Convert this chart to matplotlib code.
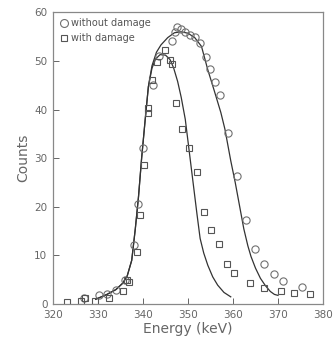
import numpy as np
import matplotlib.pyplot as plt

# ------------------------------------------------------------
# Datos
# ------------------------------------------------------------

# sin dano (circulos)
e_sin = [326.8, 330.2, 332.0, 334.1, 335.9, 337.9, 339.0, 340.1, 342.3,
         343.5, 346.5, 347.2, 347.6, 348.5, 349.4, 350.5, 351.6, 352.7,
         354.0, 354.9, 356.0, 357.1, 358.9, 360.8, 363.0, 365.0, 367.0,
         369.2, 371.2, 375.4]
c_sin = [1.2, 1.8, 2.0, 3.0, 4.9, 12.2, 20.6, 32.2, 45.1,
         51.0, 54.2, 56.0, 56.9, 56.5, 56.0, 55.3, 54.9, 53.7,
         50.8, 48.4, 45.7, 43.1, 35.1, 26.3, 17.3, 11.4, 8.2,
         6.1, 4.7, 3.5]

# con dano (cuadrados)
e_con = [323.1, 326.2, 327.2, 329.3, 332.4, 335.5, 336.5, 337.0, 338.7,
         339.4, 340.3, 341.2, 341.2, 342.1, 343.2, 344.9, 346.0, 346.5,
         347.4, 348.7, 350.2, 352.0, 353.5, 355.1, 356.8, 358.6, 360.2,
         363.7, 366.8, 370.6, 373.6, 377.0]
c_con = [0.4, 0.6, 1.3, 0.6, 1.2, 2.6, 5.0, 4.5, 10.8,
         18.4, 28.6, 40.4, 39.2, 46.1, 49.8, 52.2, 50.2, 49.4,
         41.4, 36.1, 32.0, 27.1, 19.0, 15.3, 12.4, 8.3, 6.4,
         4.3, 3.4, 2.8, 2.3, 2.1]

# curvas ajustadas (puntos leidos)
x_fit_sin = [329.5, 332.0, 334.0, 335.5, 336.5, 337.5, 338.3, 339.0,
             339.7, 340.5, 341.2, 342.0, 343.0, 344.0, 345.5, 347.0,
             348.5, 350.0, 351.5, 353.0, 354.4, 355.8, 357.3, 358.2,
             359.5, 360.5, 361.5, 362.4, 363.3, 364.0, 365.0, 366.1,
             367.2, 368.3, 369.2, 370.0]
y_fit_sin = [1.0, 2.0, 3.0, 4.3, 5.8, 9.0, 15.5, 22.0,
             30.0, 38.0, 44.7, 49.0, 51.8, 53.3, 54.8, 55.8,
             56.0, 55.7, 54.8, 53.0, 48.2, 44.0, 39.4, 36.0,
             29.5, 25.0, 20.0, 15.5, 12.0, 9.8, 7.4, 5.3,
             3.8, 2.6, 2.0, 1.8]

x_fit_con = [329.5, 332.0, 334.0, 335.5, 336.5, 337.5, 338.3, 339.0,
             339.7, 340.5, 341.2, 342.0, 342.8, 343.8, 345.0, 346.0,
             346.8, 347.7, 348.5, 349.4, 350.0, 351.0, 352.0, 352.7,
             353.5, 354.4, 355.5, 356.6, 358.0, 359.5]
y_fit_con = [1.0, 2.0, 3.0, 4.3, 5.8, 9.0, 15.5, 22.0,
             30.0, 38.0, 44.7, 48.5, 50.4, 51.3, 51.2, 50.3,
             48.6, 45.8, 42.5, 38.0, 33.5, 26.0, 18.5, 13.5,
             10.5, 8.0, 5.6, 3.9, 2.4, 1.5]

# ------------------------------------------------------------
# Grafica
# ------------------------------------------------------------

gris = '#666666'
plt.rcParams['font.family'] = 'DejaVu Sans'

fig = plt.figure(figsize=(3.33, 3.52), dpi=100)
ax = fig.add_axes([0.159, 0.136, 0.811, 0.829])

ax.plot(x_fit_sin, y_fit_sin, color='#333333', linewidth=0.9)
ax.plot(x_fit_con, y_fit_con, color='#333333', linewidth=0.9)

ax.plot(e_sin, c_sin, 'o', markersize=5.2, markerfacecolor='none',
        markeredgecolor='#707070', markeredgewidth=0.8,
        label='without damage')
ax.plot(e_con, c_con, 's', markersize=4.3, markerfacecolor='none',
        markeredgecolor='#555555', markeredgewidth=0.8,
        label='with damage')

ax.set_xlim(320, 380)
ax.set_ylim(0, 60)
ax.set_xticks(np.arange(320, 381, 10))
ax.set_yticks(np.arange(0, 61, 10))

ax.tick_params(direction='in', length=4, width=0.7, colors=gris,
               labelsize=7.5, pad=4)
for s in ax.spines.values():
    s.set_color('#888888')
    s.set_linewidth(0.9)

ax.set_xlabel('Energy (keV)', fontsize=10, color=gris, labelpad=2)
ax.set_ylabel('Counts', fontsize=10, color=gris, labelpad=3)

leg = ax.legend(loc='upper left', frameon=False, fontsize=7,
                handletextpad=0.3, handlelength=1.0, borderaxespad=0.3,
                labelspacing=0.5, borderpad=0.3, markerscale=1.1)
for t in leg.get_texts():
    t.set_color('#555555')

plt.savefig('out.png', dpi=100)
